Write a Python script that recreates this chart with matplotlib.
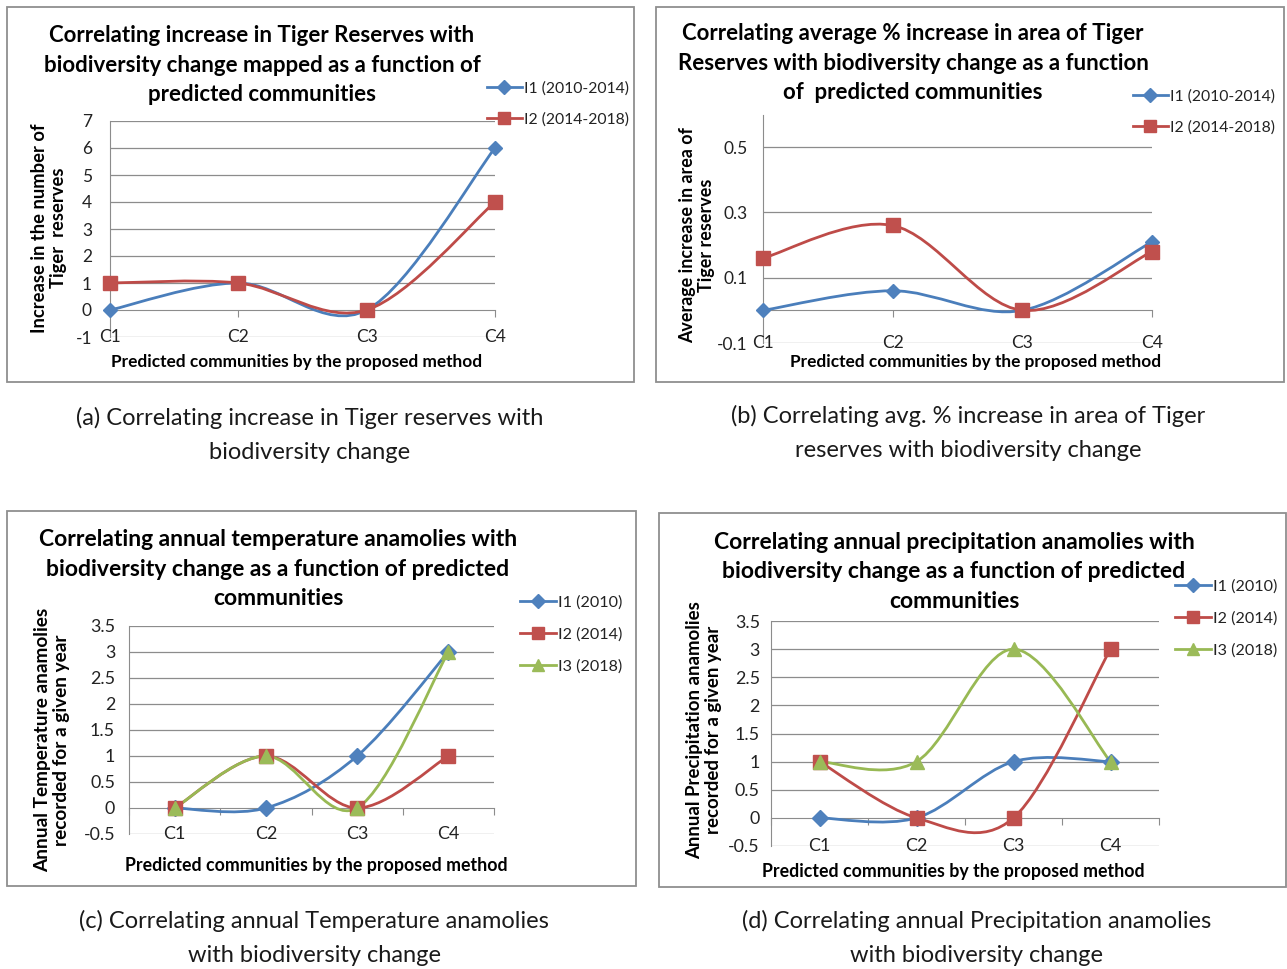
"""
Four Excel-style smoothed line charts: tiger reserves / climate anomalies
versus predicted communities C1..C4.
"""
import matplotlib
matplotlib.use("Agg")
import matplotlib.pyplot as plt
from matplotlib.path import Path
from matplotlib.patches import PathPatch, Rectangle
from matplotlib.lines import Line2D

plt.rcParams['font.family'] = ['Lato', 'DejaVu Sans']

W, H = 1287, 969

categories = ["C1", "C2", "C3", "C4"]

# (a) increase in number of tiger reserves
a_i1 = [0, 1, 0, 6]
a_i2 = [1, 1, 0, 4]
# (b) average % increase in area of tiger reserves
b_i1 = [0.0, 0.06, 0.0, 0.21]
b_i2 = [0.16, 0.26, 0.0, 0.18]
# (c) annual temperature anomalies
c_i1 = [0, 0, 1, 3]
c_i2 = [0, 1, 0, 1]
c_i3 = [0, 1, 0, 3]
# (d) annual precipitation anomalies
d_i1 = [0, 0, 1, 1]
d_i2 = [1, 0, 0, 3]
d_i3 = [1, 1, 3, 1]

labels_ab = ["I1 (2010-2014)", "I2 (2014-2018)"]
labels_cd = ["I1 (2010)", "I2 (2014)", "I3 (2018)"]

a_yticks = [-1, 0, 1, 2, 3, 4, 5, 6, 7]
b_yticks = [-0.1, 0.1, 0.3, 0.5]
cd_yticks = [-0.5, 0, 0.5, 1, 1.5, 2, 2.5, 3, 3.5]
cd_ytick_labels = ["-0.5", "0", "0.5", "1", "1.5", "2", "2.5", "3", "3.5"]

STYLES = [
    dict(line="#4A7EBB", face="#4F81BD", marker="D", ms=7.5),
    dict(line="#BE4B48", face="#C0504D", marker="s", ms=9.5),
    dict(line="#98B954", face="#9BBB59", marker="^", ms=9.5),
]
GRID = "#8C8C8C"


def fx(x):
    return x / W


def fy(y):
    return 1 - y / H


def smooth_path(xs, ys):
    # Excel-like smoothed line: cubic Bezier through the points (Catmull-Rom tangents)
    pts = list(zip(xs, ys))
    verts = [pts[0]]
    codes = [Path.MOVETO]
    n = len(pts)
    for i in range(n - 1):
        p0 = pts[max(i - 1, 0)]
        p1 = pts[i]
        p2 = pts[i + 1]
        p3 = pts[min(i + 2, n - 1)]
        c1 = (p1[0] + (p2[0] - p0[0]) / 6, p1[1] + (p2[1] - p0[1]) / 6)
        c2 = (p2[0] - (p3[0] - p1[0]) / 6, p2[1] - (p3[1] - p1[1]) / 6)
        verts += [c1, c2, p2]
        codes += [Path.CURVE4] * 3
    return Path(verts, codes)


def panel(fig, box, ax_px, series, labels, ylim, yticks, ytick_labels, between,
          title, title_xy, ylabel, ylabel_xy, xlabel_xy, legend_xy,
          fs=1.0, ypad=12, ylab_fs=13):
    # outer grey frame
    bx0, by0, bx1, by1 = box
    fig.add_artist(Rectangle((fx(bx0), fy(by1)), (bx1 - bx0) / W, (by1 - by0) / H,
                             transform=fig.transFigure, fill=False,
                             ec="#8F8F8F", lw=1.3))
    x0, x1, yt, yb = ax_px
    ax = fig.add_axes([fx(x0), fy(yb), (x1 - x0) / W, (yb - yt) / H])
    xs = list(range(len(categories)))
    if between:
        ax.set_xlim(-0.5, len(categories) - 0.5)
        ticks = [i - 0.5 for i in range(len(categories) + 1)]
    else:
        ax.set_xlim(0, len(categories) - 1)
        ticks = xs
    ax.set_ylim(*ylim)

    for yv in yticks:
        if yv != 0:
            ax.axhline(yv, color=GRID, lw=0.9, zorder=1)

    for k, vals in enumerate(series):
        st = STYLES[k]
        ax.add_patch(PathPatch(smooth_path(xs, vals), fill=False,
                               ec=st["line"], lw=2.0, zorder=3,
                               capstyle="round", joinstyle="round"))
        ax.plot(xs, vals, ls="none", marker=st["marker"], ms=st["ms"] * fs,
                mfc=st["face"], mec=st["face"], zorder=4, clip_on=False)

    for s in ["top", "right"]:
        ax.spines[s].set_visible(False)
    ax.spines["left"].set_color(GRID)
    ax.spines["bottom"].set_color(GRID)
    ax.spines["bottom"].set_position(("data", 0))
    ax.spines["bottom"].set_zorder(2)
    ax.set_xticks(ticks)
    ax.set_xticklabels([])
    ax.tick_params(axis="x", direction="out", length=5, color=GRID)
    ax.set_yticks(yticks)
    ax.set_yticklabels(ytick_labels, fontsize=12.5 * fs, color="#222222")
    ax.tick_params(axis="y", length=0, pad=ypad)

    for i, c in enumerate(categories):
        ax.text(i, ylim[0], c, ha="center", va="center", fontsize=12.5 * fs,
                color="#222222", zorder=5)

    fig.text(fx(title_xy[0]), fy(title_xy[1]), title, ha="center", va="center",
             fontsize=16 * fs, fontweight="bold", linespacing=1.5)
    fig.text(fx(ylabel_xy[0]), fy(ylabel_xy[1]), ylabel, ha="center", va="center",
             rotation=90, fontsize=ylab_fs, fontweight="bold", linespacing=1.1)
    fig.text(fx(xlabel_xy[0]), fy(xlabel_xy[1]),
             "Predicted communities by the proposed method",
             ha="center", va="center", fontsize=12.4 * fs, fontweight="bold")

    handles = [Line2D([], [], color=STYLES[k]["line"], lw=2.0,
                      marker=STYLES[k]["marker"], ms=STYLES[k]["ms"] * 0.95,
                      mfc=STYLES[k]["face"], mec=STYLES[k]["face"])
               for k in range(len(series))]
    ax.legend(handles, labels, loc="upper left",
              bbox_to_anchor=(fx(legend_xy[0]), fy(legend_xy[1])),
              bbox_transform=fig.transFigure, frameon=False,
              handlelength=2.2, handletextpad=0.15, labelspacing=1.1,
              borderpad=0, borderaxespad=0, fontsize=11.3 * fs,
              labelcolor="#222222")
    return ax


fig = plt.figure(figsize=(W / 100, H / 100), dpi=100)

panel(fig, (7, 7, 634, 382), (110, 495, 121, 337), [a_i1, a_i2], labels_ab,
      (-1, 7), a_yticks, [str(v) for v in a_yticks], False,
      "Correlating increase in Tiger Reserves with\n"
      "biodiversity change mapped as a function of\n"
      "predicted communities", (262, 65),
      "Increase in the number of\nTiger  reserves", (49, 228),
      (297, 362), (487, 81), ypad=13, ylab_fs=13.2)

panel(fig, (656, 7, 1284, 382), (763, 1152, 114.5, 343), [b_i1, b_i2], labels_ab,
      (-0.1, 0.6), b_yticks, ["-0.1", "0.1", "0.3", "0.5"], False,
      "Correlating average % increase in area of Tiger\n"
      "Reserves with biodiversity change as a function\n"
      "of  predicted communities", (913, 63),
      "Average increase in area of\nTiger reserves", (697, 235),
      (976, 362), (1133, 89), ypad=11, ylab_fs=12.9)

panel(fig, (7, 511, 636, 886), (129, 494, 626, 834), [c_i1, c_i2, c_i3], labels_cd,
      (-0.5, 3.5), cd_yticks, cd_ytick_labels, True,
      "Correlating annual temperature anamolies with\n"
      "biodiversity change as a function of predicted\n"
      "communities", (278, 569),
      "Annual Temperature anamolies\nrecorded for a given year", (52, 740),
      (316, 865), (520, 595), fs=1.03, ypad=10, ylab_fs=13.7)

panel(fig, (659, 513, 1286, 887), (771, 1159, 621, 846), [d_i1, d_i2, d_i3], labels_cd,
      (-0.5, 3.5), cd_yticks, cd_ytick_labels, True,
      "Correlating annual precipitation anamolies with\n"
      "biodiversity change as a function of predicted\n"
      "communities", (954, 572),
      "Annual Precipitation anamolies\nrecorded for a given year", (704, 730),
      (953, 872), (1175, 579), fs=1.03, ypad=8, ylab_fs=13.4)

captions = [
    ((310, 435), "(a) Correlating increase in Tiger reserves with\nbiodiversity change"),
    ((968, 433), "(b) Correlating avg. % increase in area of Tiger\nreserves with biodiversity change"),
    ((314, 938), "(c) Correlating annual Temperature anamolies\nwith biodiversity change"),
    ((977, 938), "(d) Correlating annual Precipitation anamolies\nwith biodiversity change"),
]
for (cx, cy), txt in captions:
    fig.text(fx(cx), fy(cy), txt, ha="center", va="center", fontsize=17,
             linespacing=1.75, color="#1a1a1a")

fig.savefig("out.png", dpi=100)
